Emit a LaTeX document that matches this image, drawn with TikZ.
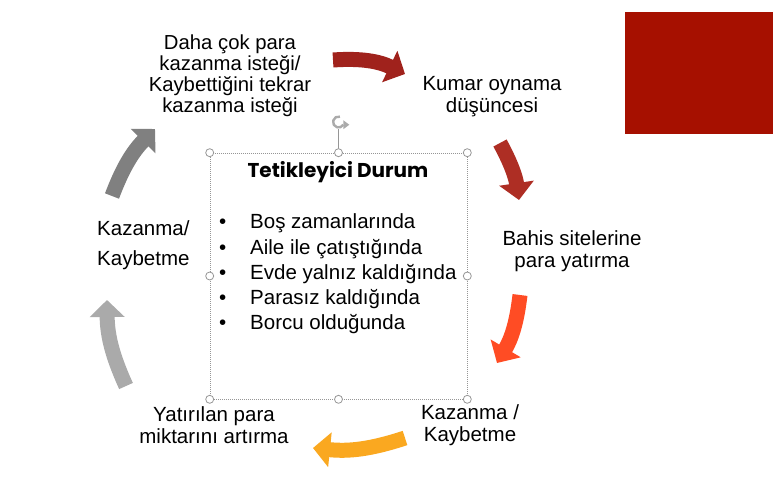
\documentclass[tikz,border=0pt]{standalone}
\usepackage{fontspec}
\setmainfont{Liberation Sans}
\newfontfamily\gothic{Poppins}
\usetikzlibrary{arrows.meta}
\definecolor{boxred}{RGB}{166,16,0}
\definecolor{wine}{RGB}{160,34,28}
\definecolor{rust}{RGB}{174,46,36}
\definecolor{flame}{RGB}{255,76,36}
\definecolor{amber}{RGB}{250,168,32}
\definecolor{ash}{RGB}{170,170,170}
\definecolor{smoke}{RGB}{128,128,128}
\definecolor{selgray}{RGB}{150,150,150}

\tikzset{
    stage/.style={font=\fontsize{20.5}{22}\selectfont, align=center, inner sep=0pt},
    item/.style={font=\fontsize{20.5}{25}\selectfont, anchor=base west, inner sep=0pt},
    flow/.style={line width=15pt, -{Triangle[width=34pt,length=17pt]}},
    handle/.style={circle, draw=selgray, fill=white, line width=0.8pt, minimum size=8pt, inner sep=0pt}
}

\begin{document}
\begin{tikzpicture}[line join=round,x=1pt,y=1pt]
    \useasboundingbox[fill=white] (0,0) rectangle (783,-478);
    \fill[boxred] (625,-12) rectangle (773,-134);

    % selection frame of the text box
    \node[draw=selgray, line width=0.6pt, dash pattern=on 1pt off 1pt, minimum width=257pt, minimum height=246pt, inner sep=0pt] (trigger) at (338.5,-276) {};
    \node[inner sep=0pt, minimum size=14pt] (rot) at (338.5,-122) {};
    \draw[selgray, line width=0.8pt] (trigger.north) -- (rot.south);
    \draw[selgray!80, line width=2.4pt] (rot.center) ++(75:5.5) arc[start angle=75, end angle=330, radius=5.5];
    \fill[selgray!80] (rot.center) ++(-30:5.5) ++(0,-4.5) -- ++(6,4.5) -- ++(-6,4.5) -- cycle;
    \foreach \a in {north west,north,north east,east,south east,south,south west,west}
        \node[handle] at (trigger.\a) {};

    % inside text
    \node[font=\gothic\bfseries\fontsize{20}{24}\selectfont, anchor=base, inner sep=0pt] (title) at (338,-178) {Tetikleyici Durum};
    \foreach \txt [count=\i] in {Boş zamanlarında,Aile ile çatıştığında,Evde yalnız kaldığında,Parasız kaldığında,Borcu olduğunda}
        \node[item] (b\i) at (219,-229-25*\i+25) {\makebox[31pt][l]{\textbullet}\txt};

    % cycle steps
    \node[stage, font=\fontsize{20.3}{21}\selectfont] (desire) at (230,-76) {Daha çok para\\kazanma isteği/\\Kaybettiğini tekrar\\kazanma isteği};
    \node[stage] (think) at (492,-97) {Kumar oynama\\düşüncesi};
    \node[stage] (bet) at (572,-251) {Bahis sitelerine\\para yatırma};
    \node[stage] (win) at (470,-425) {Kazanma /\\Kaybetme};
    \node[stage] (raise) at (214,-425) {Yatırılan para\\miktarını artırma};
    \node[stage, font=\fontsize{20.5}{30}\selectfont, align=left, anchor=west] (result) at (97,-245) {Kazanma/\\Kaybetme};

    % arrows between the steps
    \coordinate (a1s) at (333,-60);  \coordinate (a1e) at (405,-74);
    \coordinate (a2s) at (500,-143); \coordinate (a2e) at (519,-200);
    \coordinate (a3s) at (520,-295); \coordinate (a3e) at (497,-363);
    \coordinate (a4s) at (405,-438); \coordinate (a4e) at (313,-448);
    \coordinate (a5s) at (126,-386); \coordinate (a5e) at (107,-300);
    \coordinate (a6s) at (112,-196); \coordinate (a6e) at (155,-129);
    \draw[flow, wine] (a1s) to[bend left=15] (a1e);
    \draw[flow, rust] (a2s) to[bend left=10] (a2e);
    \draw[flow, flame] (a3s) to[bend left=12] (a3e);
    \draw[flow, amber] (a4s) to[bend left=12] (a4e);
    \draw[flow, ash] (a5s) to[bend left=12] (a5e);
    \draw[flow, smoke] (a6s) to[bend left=12] (a6e);
\end{tikzpicture}
\end{document}
